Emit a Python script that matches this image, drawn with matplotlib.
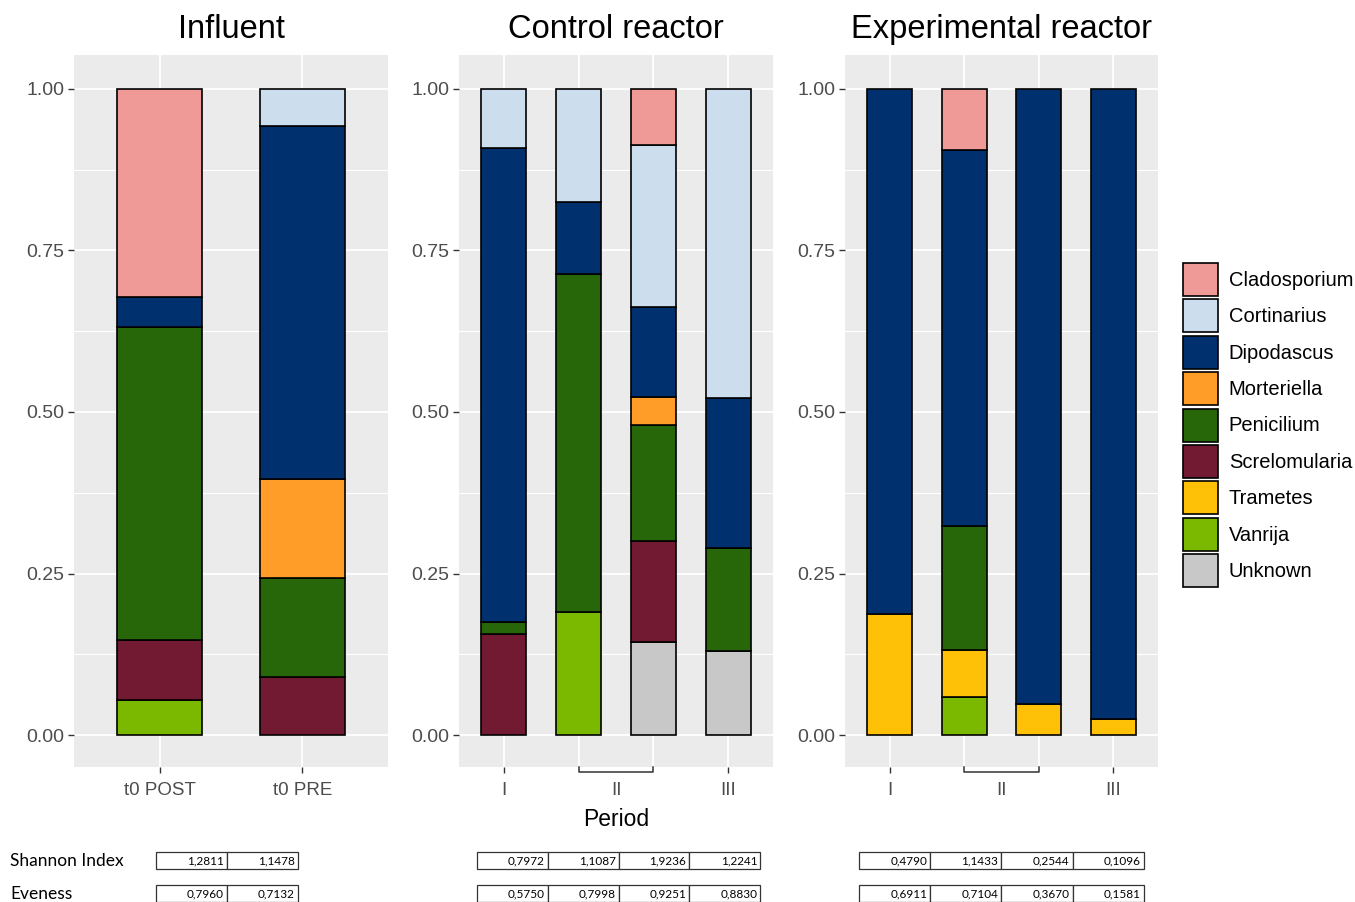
import matplotlib
matplotlib.use("Agg")
import matplotlib.pyplot as plt
from matplotlib.patches import Patch, Rectangle
import numpy as np

plt.rcParams['font.family'] = ['Liberation Sans', 'DejaVu Sans']

genera = ["Cladosporium", "Cortinarius", "Dipodascus", "Morteriella", "Penicilium",
          "Screlomularia", "Trametes", "Vanrija", "Unknown"]
colors = ["#F09A98", "#CCDEEE", "#00306E", "#FF9D28", "#286709",
          "#721A32", "#FFC008", "#7BB800", "#C8C8C8"]

# Influent samples (t0 POST, t0 PRE)
influent_labels = ["t0 POST", "t0 PRE"]
influent = {
    "Cladosporium": [0.322, 0.0],
    "Cortinarius":  [0.0, 0.057],
    "Dipodascus":   [0.046, 0.547],
    "Morteriella":  [0.0, 0.153],
    "Penicilium":   [0.485, 0.153],
    "Screlomularia":[0.093, 0.090],
    "Trametes":     [0.0, 0.0],
    "Vanrija":      [0.054, 0.0],
    "Unknown":      [0.0, 0.0],
}
# Control reactor samples (I, II, II, III)
control = {
    "Cladosporium": [0.0, 0.0, 0.087, 0.0],
    "Cortinarius":  [0.091, 0.175, 0.250, 0.478],
    "Dipodascus":   [0.734, 0.111, 0.140, 0.233],
    "Morteriella":  [0.0, 0.0, 0.043, 0.0],
    "Penicilium":   [0.019, 0.524, 0.180, 0.159],
    "Screlomularia":[0.156, 0.0, 0.156, 0.0],
    "Trametes":     [0.0, 0.0, 0.0, 0.0],
    "Vanrija":      [0.0, 0.190, 0.0, 0.0],
    "Unknown":      [0.0, 0.0, 0.144, 0.130],
}
# Experimental reactor samples (I, II, II, III)
experimental = {
    "Cladosporium": [0.0, 0.094, 0.0, 0.0],
    "Cortinarius":  [0.0, 0.0, 0.0, 0.0],
    "Dipodascus":   [0.813, 0.582, 0.952, 0.975],
    "Morteriella":  [0.0, 0.0, 0.0, 0.0],
    "Penicilium":   [0.0, 0.192, 0.0, 0.0],
    "Screlomularia":[0.0, 0.0, 0.0, 0.0],
    "Trametes":     [0.187, 0.073, 0.048, 0.025],
    "Vanrija":      [0.0, 0.059, 0.0, 0.0],
    "Unknown":      [0.0, 0.0, 0.0, 0.0],
}
period_labels = ["I", "II", "III"]

shannon_influent = ["1,2811", "1,1478"]
even_influent = ["0,7960", "0,7132"]
shannon_control = ["0,7972", "1,1087", "1,9236", "1,2241"]
even_control = ["0,5750", "0,7998", "0,9251", "0,8830"]
shannon_exp = ["0,4790", "1,1433", "0,2544", "0,1096"]
even_exp = ["0,6911", "0,7104", "0,3670", "0,1581"]

W, H = 1355, 902
fig = plt.figure(figsize=(W / 100, H / 100), dpi=100)
fig.patch.set_facecolor("white")

def px_rect(l, r, t, b):
    return [l / W, (H - b) / H, (r - l) / W, (b - t) / H]

def fx(x):
    return x / W

def fy(y):
    return (H - y) / H

panels = [
    ("Influent", influent, px_rect(74, 388, 55, 767), 2),
    ("Control reactor", control, px_rect(459, 773, 55, 767), 4),
    ("Experimental reactor", experimental, px_rect(845, 1158, 55, 767), 4),
]

axes = []
for title, data, rect, n in panels:
    ax = fig.add_axes(rect)
    axes.append(ax)
    ax.set_facecolor("#EBEBEB")
    x = np.arange(1, n + 1)
    ax.set_xlim(0.4, n + 0.6)
    ax.set_ylim(-32 / 646, 1 + 34 / 646)
    for yv in [0.125, 0.375, 0.625, 0.875]:
        ax.axhline(yv, color="white", lw=0.8, zorder=0)
    for yv in [0, 0.25, 0.5, 0.75, 1.0]:
        ax.axhline(yv, color="white", lw=1.3, zorder=0)
    for xv in x:
        ax.axvline(xv, color="white", lw=1.3, zorder=0)
    bottom = np.zeros(n)
    for g, c in zip(genera[::-1], colors[::-1]):
        vals = np.array(data[g])
        mask = vals > 0
        ax.bar(x[mask], vals[mask], bottom=bottom[mask], width=0.6, color=c,
               edgecolor="black", linewidth=1.2, zorder=2)
        bottom += vals
    for s in ax.spines.values():
        s.set_visible(False)
    ax.set_yticks([0, 0.25, 0.5, 0.75, 1.0])
    ax.set_yticklabels(["0.00", "0.25", "0.50", "0.75", "1.00"])
    ax.tick_params(axis="y", colors="#333333", labelcolor="#4D4D4D", labelsize=14,
                   length=4, width=1, pad=3)
    ax.tick_params(axis="x", colors="#333333", labelcolor="#4D4D4D", labelsize=13.5,
                   length=4.5, width=1, pad=6)
    ax.set_title(title, fontsize=23.5, pad=12, color="black")
    if n == 2:
        ax.set_xticks(x)
        ax.set_xticklabels(influent_labels)
    else:
        ax.set_xticks([1, 4])
        ax.set_xticklabels([period_labels[0], period_labels[2]])
        ax.set_xticks([2.5], minor=True)
        ax.set_xticklabels([period_labels[1]], minor=True)
        ax.tick_params(axis="x", which="minor", length=4.5, width=0,
                       labelcolor="#4D4D4D", labelsize=13.5, pad=6)
        trans = ax.get_xaxis_transform()
        d = 5.0 / 712
        ax.plot([2, 2, 3, 3], [0, -d, -d, 0], color="#333333", lw=1.1,
                transform=trans, clip_on=False, zorder=5)

axes[1].set_xlabel("Period", fontsize=16.5, labelpad=7, color="black")

# legend
handles = [Patch(facecolor=c, edgecolor="black", linewidth=1.2, label=g)
           for g, c in zip(genera, colors)]
fig.legend(handles=handles, loc="upper left", bbox_to_anchor=(fx(1183), fy(263)),
           frameon=False, fontsize=14.5, handlelength=1.72, handleheight=2.15,
           labelspacing=0.165, handletextpad=0.55, borderpad=0, borderaxespad=0)

# diversity table
fig.text(fx(10), fy(861), "Shannon Index", fontsize=12.5, family=["Lato", "DejaVu Sans"],
         va="center", ha="left")
fig.text(fx(10), fy(894), "Eveness", fontsize=12.5, family=["Lato", "DejaVu Sans"],
         va="center", ha="left")

def draw_row(x0, cell_w, y_top, vals):
    for i, v in enumerate(vals):
        l = x0 + i * cell_w
        fig.patches.append(Rectangle((fx(l), fy(y_top + 17)), cell_w / W, 17 / H,
                                     transform=fig.transFigure, facecolor="white",
                                     edgecolor="#333333", linewidth=0.9))
        fig.text(fx(l + cell_w - 3), fy(y_top + 8.5), v, fontsize=8.5,
                 family=["Lato", "DejaVu Sans"], ha="right", va="center")

draw_row(156, 71.0, 852, shannon_influent)
draw_row(156, 71.0, 885, even_influent)
draw_row(477, 70.8, 852, shannon_control)
draw_row(477, 70.8, 885, even_control)
draw_row(859, 71.2, 852, shannon_exp)
draw_row(859, 71.2, 885, even_exp)

fig.savefig("out.png", dpi=100, facecolor="white")
